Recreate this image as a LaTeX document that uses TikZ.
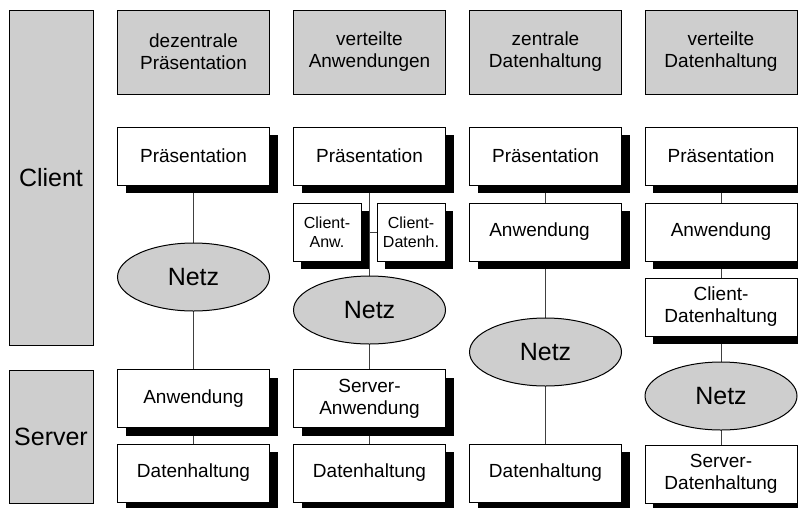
\documentclass[tikz,border=0pt]{standalone}
\usepackage{fontspec}
\setmainfont{Liberation Sans}
\usetikzlibrary{shapes.geometric,shadows,backgrounds}
\definecolor{panelgray}{RGB}{206,206,206}

\begin{document}
\begin{tikzpicture}[x=1pt,y=-1pt,
  every node/.style={inner sep=0pt, outer sep=0pt, align=center, line width=1pt},
  header/.style={draw, fill=panelgray, minimum width=152pt, minimum height=84pt,
    font=\fontsize{19}{22}\selectfont},
  side/.style={draw, fill=panelgray, minimum width=84pt,
    font=\fontsize{25}{30}\selectfont},
  layerbox/.style={draw, fill=white, minimum width=152pt, minimum height=58pt,
    font=\fontsize{19}{22}\selectfont,
    drop shadow={shadow xshift=8pt, shadow yshift=-8pt, fill=black, opacity=1}},
  smallbox/.style={layerbox, minimum width=68pt, font=\fontsize{16}{19}\selectfont},
  net/.style={ellipse, draw, fill=panelgray, minimum width=152pt, minimum height=68pt,
    font=\fontsize{25}{30}\selectfont},
  link/.style={draw=black!75, line width=1pt}
]
\useasboundingbox (0,0) rectangle (798,507);
\clip (0,0) rectangle (798,507);

% tier labels
\node[side, minimum height=335pt] (client) at (51,177.5) {Client};
\node[side, minimum height=133pt] (server) at (51,436.5) {Server};

% column headings
\node[header] (h1) at (193.5,52) {dezentrale\\Präsentation};
\node[header] (h2) at (369.5,52) {verteilte\\Anwendungen};
\node[header] (h3) at (545.5,52) {zentrale\\Datenhaltung};
\node[header] (h4) at (721,52) {verteilte\\Datenhaltung};

% column 1: dezentrale Präsentation
\node[layerbox] (p1) at (193.5,156) {Präsentation};
\node[net] (n1) at (193.5,277) {Netz};
\node[layerbox] (a1) at (193.5,398.5) {Anwendung};
\node[layerbox] (d1) at (193.5,473) {Datenhaltung};

% column 2: verteilte Anwendungen
\node[layerbox] (p2) at (369.5,156) {Präsentation};
\node[smallbox] (ca2) at (327,232) {Client-\\Anw.};
\node[smallbox] (cd2) at (411,232) {Client-\\Datenh.};
\node[net] (n2) at (369.5,310) {Netz};
\node[layerbox] (a2) at (369.5,398.5) {Server-\\Anwendung};
\node[layerbox] (d2) at (369.5,473) {Datenhaltung};

% column 3: zentrale Datenhaltung
\node[layerbox] (p3) at (545.5,156) {Präsentation};
\node[layerbox] (a3) at (545.5,232) {\hspace*{-12pt}Anwendung};
\node[net] (n3) at (545.5,352) {Netz};
\node[layerbox] (d3) at (545.5,473) {Datenhaltung};

% column 4: verteilte Datenhaltung
\node[layerbox] (p4) at (721,156) {Präsentation};
\node[layerbox] (a4) at (721,232) {Anwendung};
\node[layerbox] (c4) at (721,307) {Client-\\Datenhaltung};
\node[net] (n4) at (721,396) {Netz};
\node[layerbox] (s4) at (721,474) {Server-\\Datenhaltung};

% connections, kept behind boxes and shadows
\begin{scope}[on background layer]
  \draw[link] (p1.south) -- (n1.north);
  \draw[link] (n1.south) -- (a1.north);
  \draw[link] (a1.south) -- (d1.north);

  \draw[link] (p2.south) -- (n2.north);
  \draw[link] (ca2.east) -- (cd2.west);
  \draw[link] (n2.south) -- (a2.north);
  \draw[link] (a2.south) -- (d2.north);

  \draw[link] (p3.south) -- (a3.north);
  \draw[link] (a3.south) -- (n3.north);
  \draw[link] (n3.south) -- (d3.north);

  \draw[link] (p4.south) -- (a4.north);
  \draw[link] (a4.south) -- (c4.north);
  \draw[link] (c4.south) -- (n4.north);
  \draw[link] (n4.south) -- (s4.north);
\end{scope}
\end{tikzpicture}
\end{document}
